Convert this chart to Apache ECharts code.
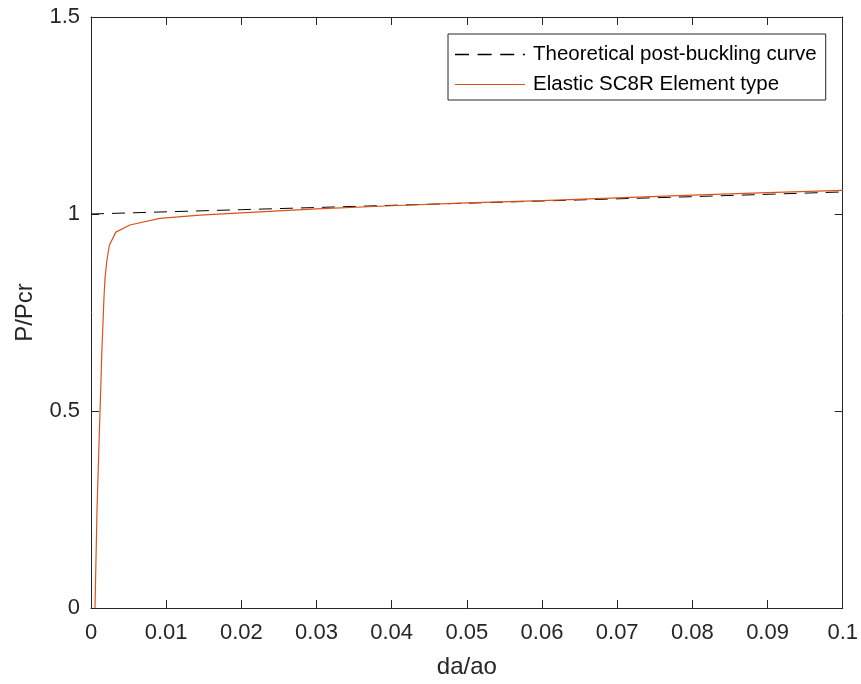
<!DOCTYPE html>
<html>
<head>
<meta charset="utf-8">
<style>
  html, body { margin: 0; padding: 0; background: #fff; overflow: hidden; }
  #chart { width: 861px; height: 684px; }
</style>
<script src="https://cdn.jsdelivr.net/npm/echarts@6/dist/echarts.min.js"></script>
</head>
<body>
<div id="chart"></div>
<script>
// Theoretical post-buckling response (x = da/ao, y = P/Pcr)
const theoryX = [0, 0.02, 0.04, 0.06, 0.08, 0.1];
const theoryY = [1.0, 1.011, 1.022, 1.033, 1.044, 1.056];

// Elastic SC8R element response
const feX = [0.00053, 0.0008, 0.0012, 0.00146, 0.00172, 0.00186, 0.0021, 0.00243, 0.0033, 0.00517, 0.00915, 0.0145, 0.02, 0.03, 0.04, 0.05, 0.06, 0.07, 0.08, 0.09, 0.1];
const feY = [0.0, 0.25, 0.5, 0.66, 0.785, 0.836, 0.88, 0.92, 0.954, 0.972, 0.989, 0.997, 1.003, 1.013, 1.021, 1.028, 1.034, 1.041, 1.048, 1.054, 1.060];

const xTicks = ['0', '0.01', '0.02', '0.03', '0.04', '0.05', '0.06', '0.07', '0.08', '0.09', '0.1'];
const yTicks = ['0', '0.5', '1', '1.5'];

const FONT = '"Liberation Sans", Arial, Helvetica, sans-serif';
const AX = '#262626';

const chart = echarts.init(document.getElementById('chart'), null, { renderer: 'canvas' });

const zip = (xs, ys) => xs.map((x, i) => [x, ys[i]]);

const baseX = {
  type: 'value', min: 0, max: 0.1, interval: 0.01,
  axisLine: { show: true, onZero: false, lineStyle: { color: AX, width: 1 } },
  axisTick: { show: true, inside: true, length: 8, lineStyle: { color: AX } },
  splitLine: { show: false }
};
const baseY = {
  type: 'value', min: 0, max: 1.5, interval: 0.5,
  axisLine: { show: true, onZero: false, lineStyle: { color: AX, width: 1 } },
  axisTick: { show: true, inside: true, length: 8, lineStyle: { color: AX } },
  splitLine: { show: false }
};

chart.setOption({
  animation: false,
  backgroundColor: '#fff',
  grid: { left: 91, right: 17, top: 17, bottom: 73, containLabel: false },
  xAxis: [
    Object.assign({}, baseX, {
      position: 'bottom',
      name: 'da/ao', nameLocation: 'middle', nameGap: 47,
      nameTextStyle: { fontFamily: FONT, fontSize: 24, color: AX },
      axisLabel: { fontFamily: FONT, fontSize: 22, color: AX, margin: 14,
        formatter: v => xTicks[Math.round(v * 100)] }
    }),
    Object.assign({}, baseX, { position: 'top', axisLabel: { show: false } })
  ],
  yAxis: [
    Object.assign({}, baseY, {
      position: 'left',
      name: 'P/Pcr', nameLocation: 'middle', nameGap: 54, nameRotate: 90,
      nameTextStyle: { fontFamily: FONT, fontSize: 24, color: AX },
      axisLabel: { fontFamily: FONT, fontSize: 22, color: AX, margin: 11,
        formatter: v => yTicks[Math.round(v * 2)] }
    }),
    Object.assign({}, baseY, { position: 'right', axisLabel: { show: false } })
  ],
  legend: {
    orient: 'vertical',
    left: 448, top: 34,
    padding: [10, 9, 5, 7],
    itemGap: 9,
    itemWidth: 70, itemHeight: 14,
    borderColor: AX, borderWidth: 1,
    backgroundColor: '#fff',
    textStyle: { fontFamily: FONT, fontSize: 20.5, lineHeight: 21, color: '#000', padding: [0, 0, 0, 3] },
    data: [
      { name: 'Theoretical post-buckling curve', icon: 'path://M0,6h13v1.2H0zM21,6h13v1.2H21zM42,6h13v1.2H42zM63,6h2v1.2H63z', itemStyle: { color: '#000' } },
      { name: 'Elastic SC8R Element type', icon: 'path://M0,6h70v1H0z', itemStyle: { color: '#D95319' } }
    ]
  },
  series: [
    {
      name: 'Theoretical post-buckling curve', type: 'line',
      data: zip(theoryX, theoryY), showSymbol: false, symbol: 'none',
      lineStyle: { color: '#000', width: 1, type: [13, 8] },
      itemStyle: { color: '#000' }, z: 2
    },
    {
      name: 'Elastic SC8R Element type', type: 'line',
      data: zip(feX, feY), showSymbol: false, symbol: 'none',
      lineStyle: { color: '#D95319', width: 1.2 },
      itemStyle: { color: '#D95319' }, z: 3
    }
  ]
});
</script>
</body>
</html>
